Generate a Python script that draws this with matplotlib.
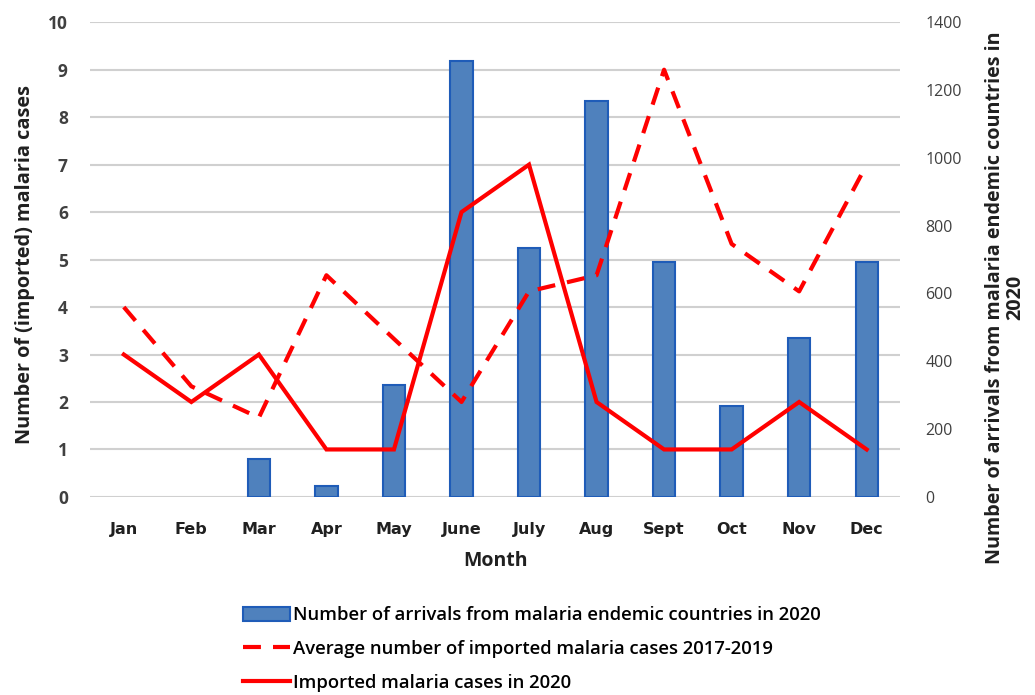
import matplotlib
matplotlib.use("Agg")
import matplotlib.pyplot as plt
from matplotlib.lines import Line2D
from matplotlib.patches import Patch
import numpy as np

months = ["Jan", "Feb", "Mar", "Apr", "May", "June", "July", "Aug", "Sept", "Oct", "Nov", "Dec"]
arrivals_2020 = [0, 0, 112, 32, 330, 1285, 734, 1167, 693, 268, 469, 693]
avg_cases_2017_2019 = [4.0, 2.33, 1.67, 4.67, 3.33, 2.0, 4.33, 4.67, 9.0, 5.33, 4.33, 7.0]
cases_2020 = [3, 2, 3, 1, 1, 6, 7, 2, 1, 1, 2, 1]

red = "#FF0000"
bar_face = "#4F81BD"
bar_edge = "#1F5CB8"
grid_col = "#D0D0D0"
tick_col = "#404040"
text_col = "#202020"

fig = plt.figure(figsize=(10.35, 6.95), dpi=100)
ax = fig.add_axes([0.087, 0.285, 0.783, 0.683])
ax2 = ax.twinx()

x = np.arange(len(months))

ax.set_ylim(0, 10)
ax.set_yticks(range(0, 11))
ax.set_xlim(-0.5, len(months) - 0.5)
ax2.set_ylim(0, 1400)
ax2.set_yticks(range(0, 1401, 200))

# horizontal gridlines behind the bars
for v in range(0, 11):
    ax2.axhline(v * 140, color=grid_col, linewidth=1.5, zorder=0)

# arrivals as bars on the secondary axis (zero months leave no outline)
edges = [bar_edge if v > 0 else "none" for v in arrivals_2020]
ax2.bar(x, arrivals_2020, width=0.33, color=bar_face, edgecolor=edges, linewidth=1.5, zorder=2)

# case lines on the primary axis, drawn over the bars
ax.set_zorder(ax2.get_zorder() + 1)
ax.patch.set_visible(False)

dash = (0, (4.3, 2.9))
ax.plot(x, avg_cases_2017_2019, color=red, linewidth=3.0, linestyle=dash,
        dash_capstyle="butt", zorder=3)
ax.plot(x, cases_2020, color=red, linewidth=3.0, solid_joinstyle="miter", zorder=4)

for a in (ax, ax2):
    for s in a.spines.values():
        s.set_visible(False)
    a.tick_params(length=0)

ax.set_xticks(x)
ax.set_xticklabels(months, fontsize=11.5, fontweight="bold", color=text_col, family="Liberation Sans Narrow")
ax.tick_params(axis="x", pad=18)
ax.tick_params(axis="y", pad=16)
for lab in ax.get_yticklabels():
    lab.set_fontsize(12.5)
    lab.set_fontweight("bold")
    lab.set_color(tick_col)
    lab.set_family("Open Sans")
ax2.tick_params(axis="y", pad=18)
for lab in ax2.get_yticklabels():
    lab.set_fontsize(11.5)
    lab.set_color(tick_col)
    lab.set_family("Open Sans")

ax.set_xlabel("Month", fontsize=14, fontweight="bold", family="Open Sans", color=text_col, labelpad=10)
ax.set_ylabel("Number of (imported) malaria cases", fontsize=14.3, fontweight="bold",
              family="Open Sans", color=text_col)
ax.yaxis.set_label_coords(-0.068, 0.49)
ax2.set_ylabel("Number of arrivals from malaria endemic countries in\n2020", fontsize=14.2,
               fontweight="bold", family="Open Sans", color=text_col, linespacing=1.05)
ax2.yaxis.set_label_coords(1.104, 0.42)

handles = [
    Patch(facecolor=bar_face, edgecolor=bar_edge, linewidth=1.5),
    Line2D([], [], color=red, linewidth=3.0, linestyle=dash),
    Line2D([], [], color=red, linewidth=3.0),
]
labels = [
    "Number of arrivals from malaria endemic countries in 2020",
    "Average number of imported malaria cases 2017-2019",
    "Imported malaria cases in 2020",
]
fig.legend(handles, labels, loc="upper left", bbox_to_anchor=(0.228, 0.138),
           frameon=False, handlelength=2.55, handleheight=0.8, handletextpad=0.12,
           labelspacing=0.84, prop={"family": "Open Sans", "weight": "semibold", "size": 13.3},
           borderaxespad=0)

fig.savefig("out.png", dpi=100)
